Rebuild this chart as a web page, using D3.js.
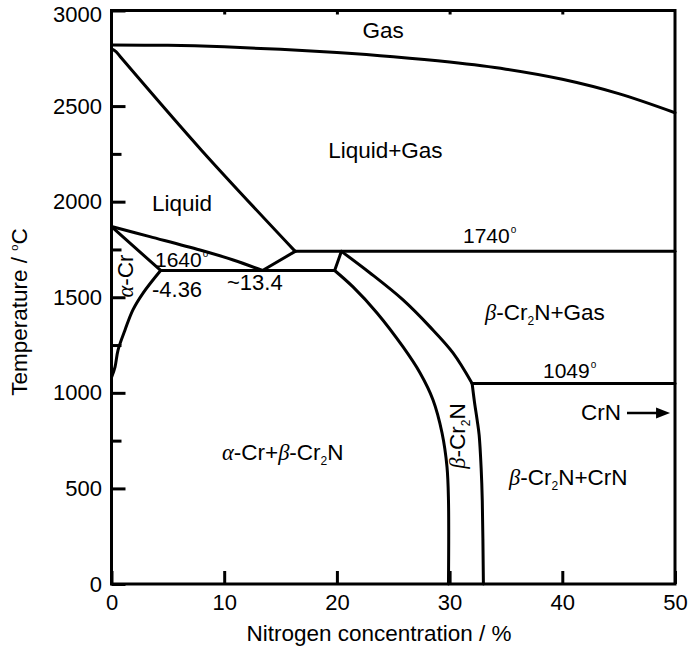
<!DOCTYPE html>
<html>
<head>
<meta charset="utf-8">
<script src="https://cdn.jsdelivr.net/npm/d3@7"></script>
<style>
  body { margin: 0; background: #fff; }
  svg { display: block; }
  text { font-family: "Liberation Sans", Arial, sans-serif; fill: #000; }
</style>
</head>
<body>
<script>
// ---------- data (x = nitrogen %, T = temperature °C) ----------
const xTicks = [0, 10, 20, 30, 40, 50];
const yTicksMajor = [0, 500, 1000, 1500, 2000, 2500, 3000];
const yTicksMinor = [750, 1250, 1750, 2250];
const topTicks = [10, 20, 30, 40];

const gasBoundary = [[0, 2820], [5, 2818], [10, 2810], [15, 2797], [20, 2780], [25, 2758], [30, 2730], [35, 2693], [40, 2640], [45, 2565], [50, 2465]];
const liquidus = [[0, 2800], [0.4, 2785], [0.9, 2750], [8, 2268], [16.3, 1740]];
const liquidLower = [[0, 1870], [3.4, 1817], [7.85, 1747], [10.8, 1695], [13.4, 1640]];
const alphaSolidus = [[0, 1870], [4.36, 1640]];
const isotherm1640 = [[4.36, 1640], [19.8, 1640]];
const peritecticLeg = [[13.4, 1640], [16.3, 1740]];
const isotherm1740 = [[16.3, 1740], [50, 1740]];
const betaTopLeg = [[19.8, 1640], [20.4, 1740]];
const betaRightUpper = [[20.4, 1740], [22.94, 1627], [25.87, 1486], [28.26, 1345], [30.3, 1209], [32.0, 1049]];
const betaRightLower = [[32.0, 1049], [32.2, 955], [32.45, 855], [32.62, 780], [32.8, 605], [32.9, 435], [33.0, 0]];
const betaLeft = [[19.8, 1640], [21.43, 1554], [23.56, 1418], [25.87, 1240], [27.38, 1104], [28.53, 963], [29.33, 790], [29.77, 612], [29.9, 439], [29.9, 0]];
const alphaSolvus = [[4.36, 1640], [2.8, 1522], [1.9, 1434], [1.2, 1329], [0.58, 1224], [0.31, 1135], [0, 1080]];
const isotherm1049 = [[32.0, 1049], [50, 1049]];

const curvedSeries = [gasBoundary, liquidus, liquidLower, betaRightUpper, betaRightLower, betaLeft, alphaSolvus];
const straightSeries = [alphaSolidus, isotherm1640, peritecticLeg, isotherm1740, betaTopLeg, isotherm1049];

// ---------- layout ----------
const W = 700, H = 648;
const x = d3.scaleLinear().domain([0, 50]).range([111.5, 675]);
const y = d3.scaleLinear().domain([0, 3000]).range([584, 10.5]);

const svg = d3.select("body").append("svg").attr("width", W).attr("height", H);

const lineCurve = d3.line().x(d => x(d[0])).y(d => y(d[1])).curve(d3.curveCatmullRom.alpha(0.5));
const lineStraight = d3.line().x(d => x(d[0])).y(d => y(d[1]));

const g = svg.append("g");
g.selectAll("path.c").data(curvedSeries).join("path")
  .attr("class", "c").attr("d", lineCurve)
  .attr("fill", "none").attr("stroke", "#000").attr("stroke-width", 3).attr("stroke-linejoin", "round").attr("stroke-linecap", "round");
g.selectAll("path.s").data(straightSeries).join("path")
  .attr("class", "s").attr("d", lineStraight)
  .attr("fill", "none").attr("stroke", "#000").attr("stroke-width", 3).attr("stroke-linecap", "round");

// axes
const fontTick = 22;
const yAxis = d3.axisLeft(y).tickValues(yTicksMajor).tickSizeInner(-14).tickSizeOuter(0).tickPadding(9.5).tickFormat(d3.format("d"));
const yA = svg.append("g").attr("transform", `translate(${x(0)},0)`).call(yAxis);
const yMinor = d3.axisLeft(y).tickValues(yTicksMinor).tickSizeInner(-10).tickSizeOuter(0).tickFormat("");
const yM = svg.append("g").attr("transform", `translate(${x(0)},0)`).call(yMinor);
const xAxis = d3.axisBottom(x).tickValues(xTicks).tickSizeInner(-13).tickSizeOuter(0).tickPadding(10).tickFormat(d3.format("d"));
const xA = svg.append("g").attr("transform", `translate(0,${y(0)})`).call(xAxis);
const xTop = d3.axisTop(x).tickValues(topTicks).tickSizeInner(-4).tickSizeOuter(0).tickFormat("");
const xT = svg.append("g").attr("transform", `translate(0,${y(3000)})`).call(xTop);

[yA, yM, xA, xT].forEach(a => {
  a.select(".domain").remove();
  a.selectAll(".tick line").attr("stroke", "#000").attr("stroke-width", 3);
  a.selectAll(".tick text").attr("font-size", fontTick).attr("font-family", "Liberation Sans, Arial, sans-serif").attr("fill", "#000");
});
// top label sits a little lower, as in the reference
yA.selectAll(".tick text").filter(d => d === 3000).attr("y", 3.5);

// frame
svg.append("rect")
  .attr("x", x(0)).attr("y", y(3000)).attr("width", x(50) - x(0)).attr("height", y(0) - y(3000))
  .attr("fill", "none").attr("stroke", "#000").attr("stroke-width", 3);

// axis titles
svg.append("text").attr("x", 379).attr("y", 641).attr("text-anchor", "middle").attr("font-size", 22.5)
  .text("Nitrogen concentration / %");
const yt = svg.append("text").attr("transform", "translate(27,312) rotate(-90)").attr("text-anchor", "middle").attr("font-size", 22.5);
yt.append("tspan").text("Temperature / ");
yt.append("tspan").attr("font-size", 11).attr("dy", -9).text("o");
yt.append("tspan").attr("dy", 9).text("C");

// ---------- annotations ----------
const fs = 22.5, fsNum = 21;
function plain(t, xv, Tv, anchor, size) {
  return svg.append("text").attr("x", x(xv)).attr("y", y(Tv)).attr("font-size", size || fs).attr("text-anchor", anchor || "start").text(t);
}
function degree(t, xv, Tv) {
  const el = svg.append("text").attr("x", x(xv)).attr("y", y(Tv)).attr("font-size", fsNum);
  el.append("tspan").text(t);
  el.append("tspan").attr("font-size", 10).attr("dx", 1).attr("dy", -10).text("o");
  return el;
}
function greek(el, letter) {
  el.append("tspan").attr("font-family", "Liberation Serif, Times New Roman, serif").attr("font-style", "italic").text(letter);
}
function cr2n(el) {
  el.append("tspan").text("-Cr");
  el.append("tspan").attr("font-size", 12).attr("dy", 5).text("2");
  el.append("tspan").attr("dy", -5).text("N");
}

plain("Gas", 24.1, 2857, "middle");
plain("Liquid+Gas", 24.3, 2229, "middle");
plain("Liquid", 3.59, 1952);
degree("1640", 3.86, 1659);
plain("-4.36", 3.59, 1502, "start", 22);
plain("~13.4", 10.25, 1538, "start", 22);
degree("1740", 31.19, 1784);
degree("1049", 38.29, 1078);
plain("CrN", 41.66, 858);

// β-Cr2N+Gas
{
  const el = svg.append("text").attr("x", x(33.14)).attr("y", y(1381)).attr("font-size", fs);
  greek(el, "β"); cr2n(el); el.append("tspan").text("+Gas");
}
// β-Cr2N+CrN
{
  const el = svg.append("text").attr("x", x(35.27)).attr("y", y(518)).attr("font-size", fs);
  greek(el, "β"); cr2n(el); el.append("tspan").text("+CrN");
}
// α-Cr+β-Cr2N
{
  const el = svg.append("text").attr("x", x(9.8)).attr("y", y(649)).attr("font-size", fs);
  greek(el, "α"); el.append("tspan").text("-Cr+"); greek(el, "β"); cr2n(el);
}
// α-Cr rotated
{
  const el = svg.append("text").attr("transform", `translate(${x(1.91)},${y(1611)}) rotate(-90)`).attr("text-anchor", "middle").attr("font-size", fs);
  greek(el, "α"); el.append("tspan").text("-Cr");
}
// β-Cr2N rotated
{
  const el = svg.append("text").attr("transform", `translate(${x(31.37)},${y(774)}) rotate(-90)`).attr("text-anchor", "middle").attr("font-size", fs);
  greek(el, "β"); cr2n(el);
}

// CrN arrow
const arrow = [[45.74, 895], [49.56, 895]];
svg.append("line")
  .attr("x1", x(arrow[0][0])).attr("y1", y(arrow[0][1])).attr("x2", x(arrow[1][0]) - 12).attr("y2", y(arrow[1][1]))
  .attr("stroke", "#000").attr("stroke-width", 2.5);
svg.append("path")
  .attr("d", `M${x(arrow[1][0])},${y(arrow[1][1])} l-14,-5.5 l0,11 z`)
  .attr("fill", "#000");
</script>
</body>
</html>
